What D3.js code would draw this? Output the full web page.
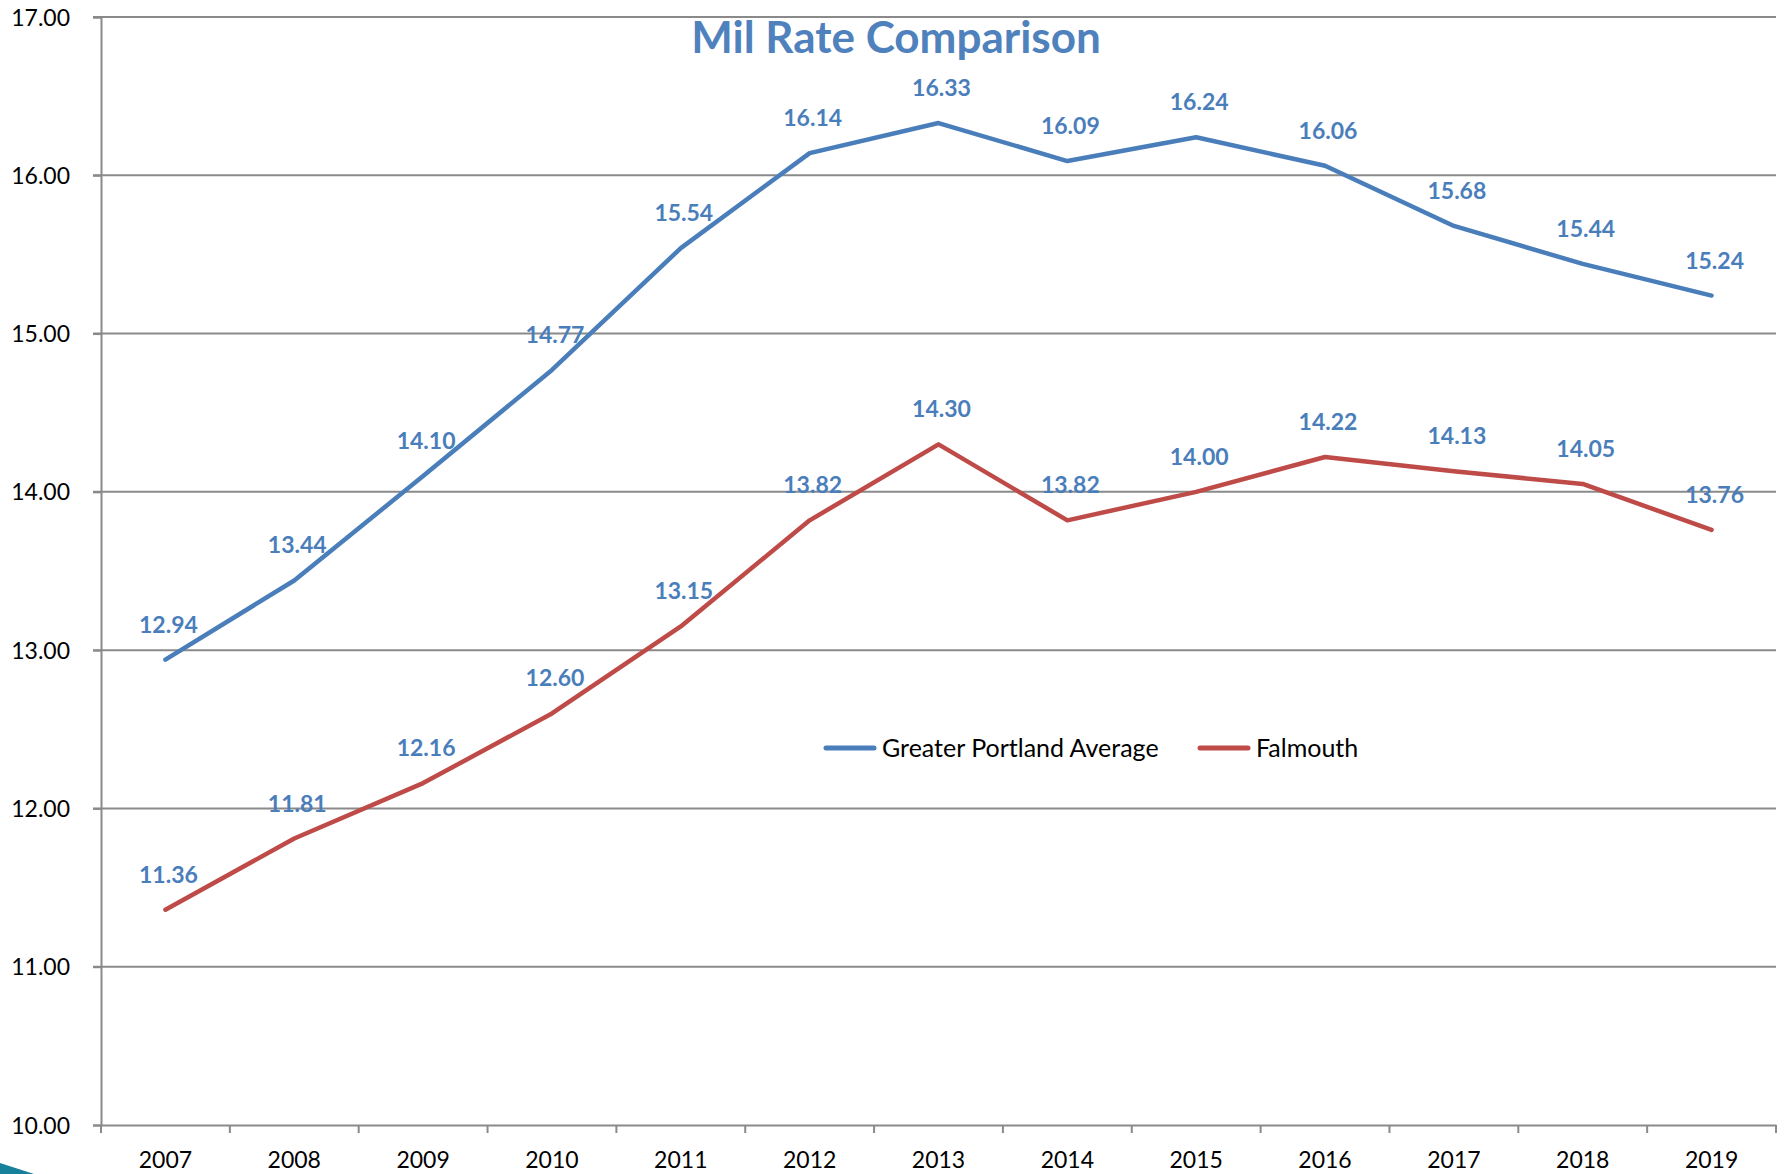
<!DOCTYPE html>
<html>
<head>
<meta charset="utf-8">
<script src="https://cdn.jsdelivr.net/npm/d3@7"></script>
<style>
  body { margin: 0; background: #fff; }
  svg { display: block; font-family: Lato, "Open Sans", sans-serif; }
</style>
</head>
<body>
<div id="chart"></div>
<script>
// data
var years = ["2007", "2008", "2009", "2010", "2011", "2012", "2013", "2014", "2015", "2016", "2017", "2018", "2019"];
var portland = [12.94, 13.44, 14.10, 14.77, 15.54, 16.14, 16.33, 16.09, 16.24, 16.06, 15.68, 15.44, 15.24];
var falmouth = [11.36, 11.81, 12.16, 12.60, 13.15, 13.82, 14.30, 13.82, 14.00, 14.22, 14.13, 14.05, 13.76];
var yTicks = [10, 11, 12, 13, 14, 15, 16, 17];
var seriesNames = ["Greater Portland Average", "Falmouth"];

var W = 1785, H = 1174;
var margin = { top: 17, right: 9, bottom: 49, left: 101 };
var width = W - margin.left - margin.right,
    height = H - margin.top - margin.bottom;

var blue = "#4A7EBB", red = "#BE4B48", grid = "#8a8a8a";
var fontStack = "Lato, 'Open Sans', sans-serif";

var svg = d3.select("#chart").append("svg")
    .attr("width", W)
    .attr("height", H);

var g = svg.append("g").attr("transform", "translate(" + margin.left + "," + margin.top + ")");

var x = d3.scaleBand().domain(years).range([0, width]);
var y = d3.scaleLinear().domain([10, 17]).range([height, 0]);

// gridlines
g.selectAll(".grid").data(yTicks.slice(1)).enter().append("line")
    .attr("x1", -8).attr("x2", width)
    .attr("y1", function(d) { return y(d); })
    .attr("y2", function(d) { return y(d); })
    .attr("stroke", grid).attr("stroke-width", 2);

// y axis
var yAxis = g.append("g").call(d3.axisLeft(y).tickValues(yTicks).tickSize(8).tickFormat(d3.format(".2f")));
yAxis.select(".domain").attr("stroke", grid).attr("stroke-width", 2);
yAxis.selectAll(".tick line").attr("stroke", grid).attr("stroke-width", 2);
yAxis.selectAll("text").attr("font-size", 23).attr("fill", "#000").attr("x", -31).attr("dy", "0.35em")
    .style("font-family", fontStack);

// x axis
var xAxis = g.append("g").attr("transform", "translate(0," + height + ")")
    .call(d3.axisBottom(x).tickSize(0).tickPadding(27));
xAxis.select(".domain").attr("stroke", grid).attr("stroke-width", 2);
xAxis.selectAll("text").attr("font-size", 23).attr("fill", "#000")
    .style("font-family", fontStack);
// tick marks sit on category boundaries
g.selectAll(".xtick").data(d3.range(years.length + 1)).enter().append("line")
    .attr("x1", function(i) { return i * x.step(); })
    .attr("x2", function(i) { return i * x.step(); })
    .attr("y1", height).attr("y2", height + 8)
    .attr("stroke", grid).attr("stroke-width", 2);

var cx = function(d, i) { return x(years[i]) + x.bandwidth() / 2; };
var line = d3.line().x(cx).y(function(d) { return y(d); });

[[portland, blue], [falmouth, red]].forEach(function(s) {
    g.append("path").datum(s[0])
        .attr("d", line)
        .attr("fill", "none")
        .attr("stroke", s[1])
        .attr("stroke-width", 4.5)
        .attr("stroke-linecap", "round")
        .attr("stroke-linejoin", "round");
});

// data labels (all blue, bold) above each point
[portland, falmouth].forEach(function(vals) {
    g.selectAll(null).data(vals).enter().append("text")
        .attr("x", function(d, i) { return cx(d, i) + 3; })
        .attr("y", function(d) { return y(d) - 27; })
        .attr("text-anchor", "middle")
        .attr("font-size", 23)
        .attr("font-weight", "bold")
        .attr("fill", blue)
        .text(function(d) { return d.toFixed(2); });
});

// title
svg.append("text")
    .attr("x", 896).attr("y", 53)
    .attr("text-anchor", "middle")
    .attr("font-size", 44)
    .attr("font-weight", "bold")
    .attr("fill", "#4F81BD")
    .text("Mil Rate Comparison");

// legend
var legend = svg.append("g").attr("transform", "translate(826,748)");
var legX = [0, 374];
seriesNames.forEach(function(name, i) {
    var lg = legend.append("g").attr("transform", "translate(" + legX[i] + ",0)");
    lg.append("line").attr("x1", 0).attr("x2", 48).attr("y1", 0).attr("y2", 0)
        .attr("stroke", i == 0 ? blue : red).attr("stroke-width", 5).attr("stroke-linecap", "round");
    lg.append("text").attr("x", 56).attr("y", 0).attr("dy", "0.35em")
        .attr("font-size", 25).attr("fill", "#000").text(name);
});

// teal corner decoration
svg.append("path")
    .attr("d", "M0,1163 L34,1174 L0,1174 Z")
    .attr("fill", "#17809a");
</script>
</body>
</html>
